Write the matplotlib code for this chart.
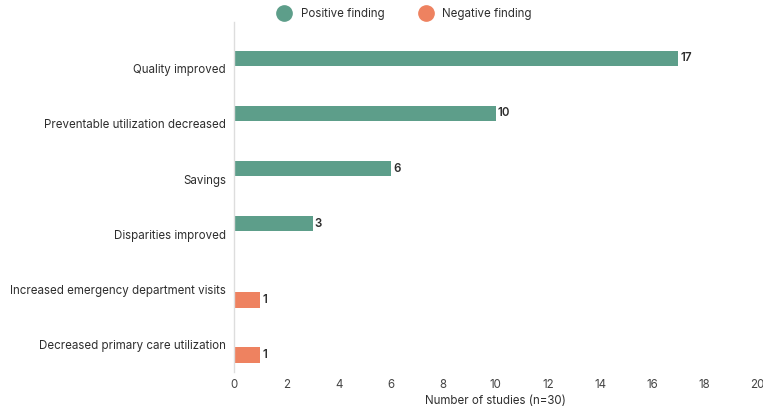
import matplotlib.pyplot as plt
import numpy as np
from matplotlib.lines import Line2D

# data
categories = [
    "Quality improved",
    "Preventable utilization decreased",
    "Savings",
    "Disparities improved",
    "Increased emergency department visits",
    "Decreased primary care utilization",
]
positive = [17, 10, 6, 3, 0, 0]
negative = [0, 0, 0, 0, 1, 1]
xticks = [0, 2, 4, 6, 8, 10, 12, 14, 16, 18, 20]

green = "#5d9e8a"
orange = "#ee8260"
text_col = "#2e2e2e"
fs = 8.3

plt.rcParams["font.family"] = ["Inter", "DejaVu Sans"]

fig = plt.figure(figsize=(7.63, 4.07), dpi=100, facecolor="white")
ax = fig.add_axes([0.307, 0.086, 0.685, 0.86])

y = np.arange(len(categories))
h = 0.28
off = 0.19

bars_p = ax.barh(y - off, positive, height=h, color=green)
bars_n = ax.barh(y + off, negative, height=h, color=orange)

for bars, vals in [(bars_p, positive), (bars_n, negative)]:
    for b, v in zip(bars, vals):
        if v > 0:
            ax.text(b.get_width() + 0.08, b.get_y() + b.get_height() / 2, str(v),
                    va="center", ha="left", fontsize=fs, color=text_col,
                    fontweight="semibold")

ax.set_yticks(y)
ax.set_yticklabels(categories, fontsize=fs, color=text_col)
ax.set_ylim(5.5, -0.85)
ax.set_xlim(0, 20)
ax.set_xticks(xticks)
ax.set_xticklabels([str(t) for t in xticks], fontsize=fs, color="#444444")
ax.tick_params(axis="both", length=0)
ax.tick_params(axis="x", pad=5)
ax.tick_params(axis="y", pad=6)
ax.set_xlabel("Number of studies (n=30)", fontsize=fs, color=text_col, labelpad=3)

for s in ["top", "right", "bottom"]:
    ax.spines[s].set_visible(False)
ax.spines["left"].set_color("#dddddd")
ax.spines["left"].set_linewidth(1.0)

handles = [
    Line2D([], [], marker="o", linestyle="", markersize=11, color=green, label="Positive finding"),
    Line2D([], [], marker="o", linestyle="", markersize=11, color=orange, label="Negative finding"),
]
fig.legend(handles=handles, loc="center", bbox_to_anchor=(0.527, 0.965), ncol=2,
           frameon=False, fontsize=fs, handletextpad=0.4, columnspacing=2.6,
           labelcolor=text_col)

fig.savefig("out.png", dpi=100, facecolor="white")
